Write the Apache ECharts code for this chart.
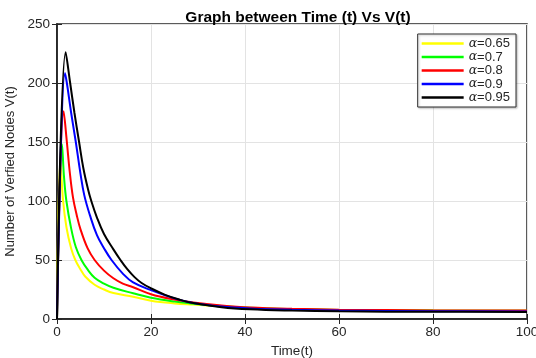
<!DOCTYPE html>
<html>
<head>
<meta charset="utf-8">
<script src="https://cdn.jsdelivr.net/npm/echarts@6/dist/echarts.min.js"></script>
<style>
html,body{margin:0;padding:0;background:#fff;}
#chart{width:536px;height:358px;}
</style>
</head>
<body>
<div id="chart"></div>
<script>
// ---- data ----
const legendNames = ['α=0.65', 'α=0.7', 'α=0.8', 'α=0.9', 'α=0.95'];
const xTicks = [0, 20, 40, 60, 80, 100];
const yTicks = [0, 50, 100, 150, 200, 250];

const tYellow = [0, 0.7, 1.3, 2, 3, 3.9, 5, 6, 8, 10, 12, 16.2, 20, 25, 29, 35, 41, 50, 60, 80, 100];
const vYellow = [0, 135, 100, 78, 60, 50, 42, 36, 29, 25, 22, 18.9, 15.5, 13.2, 12.2, 10.8, 9.4, 8.3, 7.6, 7.1, 7];

const tGreen = [0, 1.06, 1.5, 2, 3, 4, 5.2, 6.5, 8, 10, 12, 16.2, 20, 25, 29, 35, 41, 50, 60, 80, 100];
const vGreen = [0, 148, 120, 100, 77, 61, 50, 42, 35, 30, 26.5, 21.8, 18, 14.8, 13, 11, 9.5, 8.4, 7.7, 7.1, 7];

const tRed = [0, 1.42, 2.1, 2.7, 3.4, 4.2, 5, 6.5, 8, 10, 12, 14, 16.2, 20, 25, 29, 35, 41, 50, 60, 80, 100];
const vRed = [0, 176, 150, 125, 103, 88, 76, 60, 50, 41, 34.5, 30, 26.9, 21, 16.5, 14, 11.5, 9.8, 8.6, 7.9, 7.3, 7.1];

const tBlue = [0, 1.7, 2.1, 3, 4, 5, 5.8, 7, 8.5, 10, 11.6, 14, 16.2, 20, 25, 29, 35, 41, 50, 60, 80, 100];
const vBlue = [0, 208.5, 200, 175, 150, 123, 105, 88, 71, 60, 50, 38.5, 31, 24.5, 17.5, 13.5, 10.5, 9, 7.8, 7.1, 6.6, 6.4];

const tBlack = [0, 1.85, 2.8, 3.7, 4.7, 5.6, 6.6, 7.3, 8.5, 10, 12, 13.5, 15, 16.5, 18, 20, 23, 26, 29, 35, 41, 50, 60, 80, 100];
const vBlack = [0, 226, 200, 175, 150, 128, 110, 100, 86, 72, 59, 50, 42, 35.5, 30.5, 26, 20.5, 16.5, 13.5, 10, 8.2, 7.1, 6.5, 6.1, 6];

const colors = ['#ffff00', '#00ff00', '#ff0000', '#0000ff', '#000000'];
const times = [tYellow, tGreen, tRed, tBlue, tBlack];
const values = [vYellow, vGreen, vRed, vBlue, vBlack];

// ---- build ----
const FONT = 'Liberation Sans, Arial, sans-serif';
const TXT = '#262626';
const pairs = (t, v) => t.map((x, i) => [x, v[i]]);

const series = legendNames.map((n, i) => ({
  name: n,
  type: 'line',
  data: pairs(times[i], values[i]),
  showSymbol: false,
  symbol: 'none',
  smooth: 0.4,
  lineStyle: { color: colors[i], width: 2 },
  itemStyle: { color: colors[i] },
  xAxisIndex: 0,
  yAxisIndex: 0,
  z: 2 + i
}));

const chart = echarts.init(document.getElementById('chart'), null, { renderer: 'canvas' });
chart.setOption({
  animation: false,
  backgroundColor: '#ffffff',
  title: {
    text: 'Graph between Time (t) Vs V(t)',
    left: 293,
    textAlign: 'center',
    top: 5,
    textStyle: { fontFamily: FONT, fontWeight: 'bold', fontSize: 15.5, color: '#000' }
  },
  legend: {
    orient: 'vertical',
    right: 20,
    top: 34,
    data: legendNames,
    icon: 'rect',
    itemWidth: 42,
    itemHeight: 2.5,
    itemGap: 0.5,
    padding: [3, 6, 3, 4],
    backgroundColor: '#ffffff',
    borderColor: '#333333',
    borderWidth: 1,
    shadowColor: 'rgba(0,0,0,0.25)',
    shadowBlur: 2,
    shadowOffsetX: 1,
    shadowOffsetY: 1,
    formatter: function (name) {
      return '{a|α}{b|' + name.slice(1) + '}';
    },
    textStyle: {
      fontFamily: FONT,
      fontSize: 13,
      color: TXT,
      rich: {
        a: { fontFamily: 'DejaVu Serif, serif', fontStyle: 'italic', fontSize: 12.5, color: TXT, lineHeight: 13 },
        b: { fontFamily: FONT, fontSize: 13, color: TXT, lineHeight: 13 }
      }
    }
  },
  grid: {
    left: 57,
    right: 9,
    top: 24,
    bottom: 39,
    outerBoundsMode: 'none',
    containLabel: false,
    show: true,
    borderColor: '#262626',
    borderWidth: 1.5,
    backgroundColor: 'transparent'
  },
  xAxis: [{
    type: 'value',
    min: xTicks[0],
    max: xTicks[xTicks.length - 1],
    interval: xTicks[1] - xTicks[0],
    name: 'Time(t)',
    nameLocation: 'middle',
    nameGap: 22,
    nameTextStyle: { fontFamily: FONT, fontSize: 13.5, color: TXT },
    axisLine: { show: true, lineStyle: { color: '#262626', width: 1.5 } },
    axisTick: { show: true, inside: true, length: 5, lineStyle: { color: '#262626' } },
    axisLabel: { fontFamily: FONT, fontSize: 13.5, color: TXT, margin: 6 },
    splitLine: { show: true, lineStyle: { color: '#e3e3e3', width: 1 } }
  }, {
    type: 'value',
    position: 'top',
    min: xTicks[0],
    max: xTicks[xTicks.length - 1],
    interval: xTicks[1] - xTicks[0],
    axisLine: { show: true, lineStyle: { color: '#262626', width: 1.5 } },
    axisTick: { show: true, inside: true, length: 5, lineStyle: { color: '#262626' } },
    axisLabel: { show: false },
    splitLine: { show: false }
  }],
  yAxis: [{
    type: 'value',
    min: yTicks[0],
    max: yTicks[yTicks.length - 1],
    interval: yTicks[1] - yTicks[0],
    name: 'Number of Verfied Nodes V(t)',
    nameLocation: 'middle',
    nameGap: 37,
    nameRotate: 90,
    nameTextStyle: { fontFamily: FONT, fontSize: 13, color: TXT },
    axisLine: { show: true, lineStyle: { color: '#262626', width: 1.5 } },
    axisTick: { show: true, inside: true, length: 5, lineStyle: { color: '#262626' } },
    axisLabel: { fontFamily: FONT, fontSize: 13.5, color: TXT, margin: 7 },
    splitLine: { show: true, lineStyle: { color: '#e3e3e3', width: 1 } }
  }, {
    type: 'value',
    position: 'right',
    min: yTicks[0],
    max: yTicks[yTicks.length - 1],
    interval: yTicks[1] - yTicks[0],
    axisLine: { show: true, lineStyle: { color: '#262626', width: 1.5 } },
    axisTick: { show: true, inside: true, length: 5, lineStyle: { color: '#262626' } },
    axisLabel: { show: false },
    splitLine: { show: false }
  }],
  series: series
});
</script>
</body>
</html>
